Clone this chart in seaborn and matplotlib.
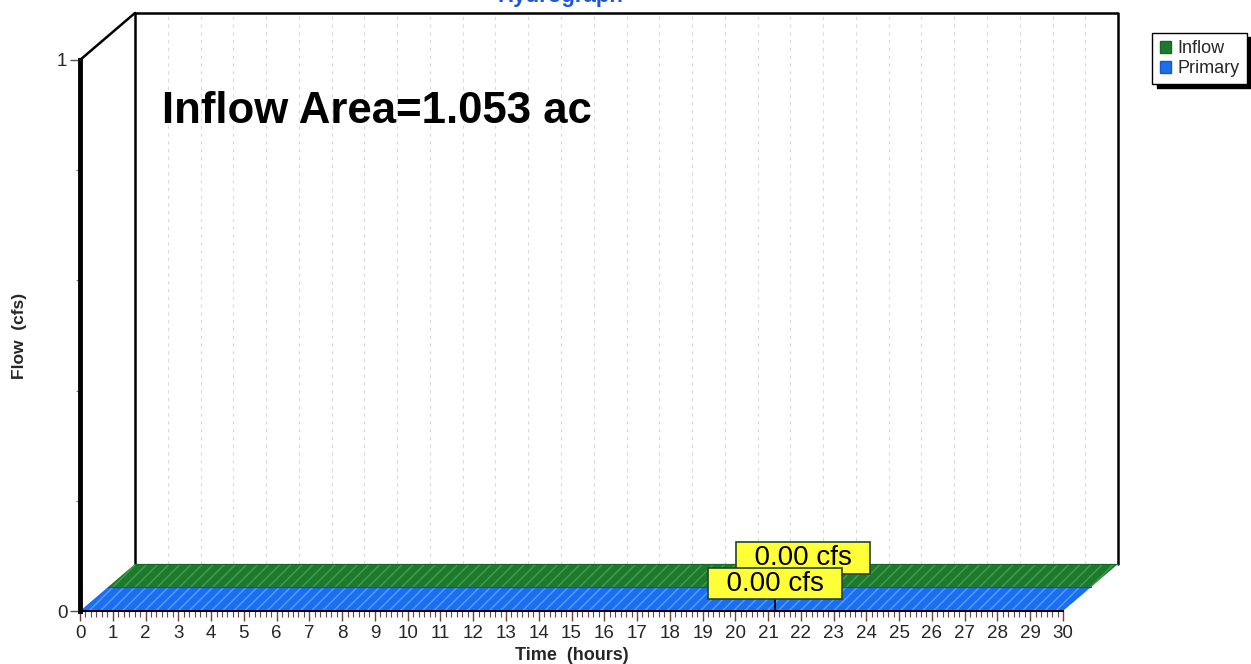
import numpy as np
import pandas as pd
import matplotlib
matplotlib.use("Agg")
import matplotlib.pyplot as plt
import seaborn as sns
from matplotlib.patches import Polygon, Patch
from matplotlib.ticker import MultipleLocator

# values: both hydrographs are flat at 0 cfs
time_hours = list(range(0, 31))
inflow_cfs = [0.00] * len(time_hours)
primary_cfs = [0.00] * len(time_hours)

series_names = ["Inflow", "Primary"]
series_colors = {"Inflow": "#1d7a2c", "Primary": "#1a6ef0"}
hatch_colors = {"Inflow": "#3e9c4c", "Primary": "#5698ff"}
edge_colors = {"Inflow": "#17662a", "Primary": "#1559c8"}

peak_time_hours = 20.8
peak_labels = {"Inflow": "0.00 cfs", "Primary": "0.00 cfs"}
area_text = "Inflow Area=1.053 ac"

x_tick_values = list(range(0, 31))
y_tick_values = [0, 1]

# 3d depth of one series layer, in data units (hours, cfs)
DX = 0.84
DY = 0.0427

sns.set_theme(style="white")
plt.rcParams["font.family"] = ["Liberation Sans", "DejaVu Sans"]
plt.rcParams["hatch.linewidth"] = 1.1

fig = plt.figure(figsize=(12.51, 6.64), dpi=100)
W, H = 1251, 664
ax = fig.add_axes([80 / W, (H - 611) / H, 983 / W, 551 / H])
ax.set_facecolor("none")
ax.set_xlim(0, 30)
ax.set_ylim(0, 1)

# back wall: outline and faint hour grid
bx0, by0 = 2 * DX, 2 * DY
ax.plot([bx0, bx0, 30 + bx0, 30 + bx0], [by0, 1 + by0, 1 + by0, by0],
        color="black", lw=1.8, clip_on=False, zorder=1)
ax.plot([0, bx0], [1, 1 + by0], color="black", lw=1.8, clip_on=False, zorder=1)
for h in x_tick_values[1:]:
    ax.plot([h + bx0, h + bx0], [by0, 1 + by0], color="#dadada", lw=0.8,
            ls=(0, (3, 4)), clip_on=False, zorder=0.5)

df = pd.DataFrame({
    "time": time_hours * 2,
    "flow": inflow_cfs + primary_cfs,
    "series": ["Inflow"] * len(time_hours) + ["Primary"] * len(time_hours),
})
layers = {"Primary": 0, "Inflow": 1}

# ribbons, back layer first
for name in ["Inflow", "Primary"]:
    k = layers[name]
    sub = df[df["series"] == name]
    t = sub["time"].to_numpy(float)
    q = sub["flow"].to_numpy(float)
    fx, fy = t + k * DX, q + k * DY
    bx, by = t + (k + 1) * DX, q + (k + 1) * DY
    ax.fill_between(fx, k * DY, fy, facecolor=series_colors[name],
                    edgecolor=hatch_colors[name], hatch="///", lw=0,
                    clip_on=False, zorder=2 - k * 0.5)
    pts = np.column_stack([np.r_[fx, bx[::-1]], np.r_[fy, by[::-1]]])
    ax.add_patch(Polygon(pts, closed=True, facecolor=series_colors[name],
                         edgecolor=hatch_colors[name], hatch="///", lw=0,
                         clip_on=False, zorder=2 - k * 0.5))
    ax.plot(bx, by, color=edge_colors[name], lw=0.8, clip_on=False, zorder=2.1 - k * 0.5)

# front edges through seaborn
df["edge"] = df["flow"] + df["series"].map(layers) * DY
df["tx"] = df["time"] + df["series"].map(layers) * DX
sns.lineplot(data=df, x="tx", y="edge", hue="series", palette=edge_colors,
             lw=0.8, legend=False, ax=ax, zorder=2.2, clip_on=False)

# peak labels
for name in ["Inflow", "Primary"]:
    k = layers[name]
    xm = peak_time_hours + (k + 0.5) * DX
    ym = (k + 0.5) * DY
    ax.plot([xm, xm], [k * DY, ym], color="black", lw=1.2, zorder=4 + (1 - k), clip_on=False)
    ax.annotate("  " + peak_labels[name] + "  ", xy=(xm, ym), xytext=(0, 2.6 + 2 * k),
                textcoords="offset pixels", ha="center", va="bottom",
                fontsize=20, color="black", zorder=4 + (1 - k),
                bbox=dict(boxstyle="square,pad=0.1", fc="#ffff38", ec="#23442a", lw=1.2))

# axes styling
for s in ["top", "right"]:
    ax.spines[s].set_visible(False)
ax.spines["left"].set_linewidth(3.5)
ax.spines["left"].set_color("black")
ax.spines["bottom"].set_linewidth(1.4)
ax.spines["bottom"].set_color("black")
ax.spines["left"].set_zorder(6)
ax.spines["bottom"].set_zorder(6)

ax.set_xticks(x_tick_values)
ax.set_xticklabels([str(v) for v in x_tick_values])
ax.xaxis.set_minor_locator(MultipleLocator(1 / 6))
ax.set_yticks(y_tick_values)
ax.set_yticklabels([str(v) for v in y_tick_values])
ax.yaxis.set_minor_locator(MultipleLocator(0.2))
ax.tick_params(axis="x", which="major", direction="out", length=7, width=1,
               color="#6e4536", labelsize=13.5, pad=3, bottom=True)
ax.tick_params(axis="x", which="minor", direction="out", length=4, width=0.8,
               color="#6e4536", bottom=True)
ax.tick_params(axis="y", which="major", direction="out", length=7, width=1,
               color="#555555", labelsize=13.5, pad=2, left=True)
ax.tick_params(axis="y", which="minor", direction="out", length=3, width=0.8,
               color="#777777", left=True)
ax.grid(False)

ax.set_xlabel("Time  (hours)", fontsize=13, fontweight="bold")
ax.xaxis.set_label_coords(0.5, -(655 - 611) / 551)
ax.xaxis.label.set_va("center")
ax.set_ylabel("Flow  (cfs)", fontsize=12.5, fontweight="bold")
ax.yaxis.set_label_coords(-60 / 983, 0.5)
ax.yaxis.label.set_va("center")

fig.text(560 / W, 1 - 2 / H, "Hydrograph", ha="center", va="baseline",
         fontsize=16, fontweight="bold", color="#2057d8")
fig.text(162 / W, 1 - 123 / H, area_text, ha="left", va="baseline",
         fontsize=31.5, fontweight="bold", color="black")

handles = [Patch(facecolor=series_colors[n], edgecolor=edge_colors[n]) for n in series_names]
fig.legend(handles, series_names, loc="upper right",
           bbox_to_anchor=(1247 / W, 1 - 33 / H), frameon=True, fancybox=False,
           edgecolor="black", framealpha=1,
           shadow={"ox": 3, "oy": -3, "facecolor": "black", "edgecolor": "black", "alpha": 1},
           fontsize=13, borderpad=0.4, handlelength=0.65, handleheight=0.65,
           handletextpad=0.35, labelspacing=0.15, borderaxespad=0)

fig.savefig("out.png", dpi=100)
